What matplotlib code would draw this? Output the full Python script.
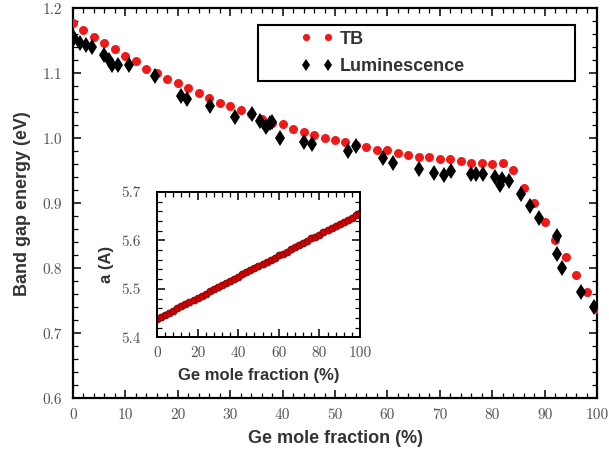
import matplotlib
matplotlib.use("Agg")
import matplotlib.pyplot as plt
from matplotlib.patches import Rectangle
from matplotlib.ticker import MultipleLocator

# データ
tb_x = list(range(0, 101, 2))
tb_y = [1.178, 1.167, 1.156, 1.146, 1.137, 1.127, 1.119, 1.107, 1.100, 1.092,
        1.085, 1.077, 1.069, 1.062, 1.055, 1.050, 1.044, 1.037, 1.029, 1.024,
        1.022, 1.015, 1.009, 1.005, 1.000, 0.997, 0.994, 0.990, 0.986, 0.982,
        0.982, 0.978, 0.974, 0.971, 0.971, 0.968, 0.968, 0.965, 0.962, 0.962,
        0.960, 0.962, 0.952, 0.924, 0.901, 0.872, 0.844, 0.817, 0.790, 0.764,
        0.738]

lum_x = [0.1, 1.3, 2.4, 3.7, 6.0, 6.8, 7.4, 8.5, 10.6, 15.6,
         20.6, 21.7, 26.1, 30.9, 34.1, 35.7, 36.8, 37.5, 37.9, 39.5,
         44.1, 45.6, 52.5, 54.1, 59.1, 61.1, 66.1, 68.9, 70.8, 72.1,
         75.9, 77.0, 78.2, 80.5, 81.4, 81.8, 83.3, 85.4, 87.3, 89.0,
         92.4, 92.4, 93.3, 96.9, 99.4]
lum_y = [1.154, 1.146, 1.144, 1.140, 1.128, 1.121, 1.113, 1.113, 1.113, 1.096,
         1.065, 1.060, 1.050, 1.033, 1.038, 1.027, 1.018, 1.023, 1.025, 1.000,
         0.994, 0.992, 0.981, 0.988, 0.970, 0.962, 0.953, 0.947, 0.944, 0.950,
         0.945, 0.945, 0.945, 0.940, 0.928, 0.937, 0.935, 0.914, 0.896, 0.878,
         0.849, 0.822, 0.800, 0.764, 0.741]

lat_x = list(range(0, 101, 2))
lat_y = [5.438, 5.442, 5.447, 5.451, 5.455, 5.460, 5.464, 5.469, 5.473, 5.477,
         5.482, 5.486, 5.490, 5.495, 5.499, 5.503, 5.508, 5.512, 5.517, 5.521,
         5.525, 5.530, 5.534, 5.539, 5.543, 5.547, 5.551, 5.556, 5.560, 5.564,
         5.569, 5.573, 5.577, 5.582, 5.586, 5.591, 5.595, 5.599, 5.604, 5.608,
         5.612, 5.617, 5.621, 5.625, 5.630, 5.634, 5.639, 5.643, 5.647, 5.652,
         5.656]

label_font = dict(family="Liberation Sans", weight="bold", color="#333333")
tick_color = "#555555"


def style_axes(ax, xmaj, xmin, ymaj, ymin, lw, xpad, ypad):
    ax.xaxis.set_major_locator(MultipleLocator(xmaj))
    ax.xaxis.set_minor_locator(MultipleLocator(xmin))
    ax.yaxis.set_major_locator(MultipleLocator(ymaj))
    ax.yaxis.set_minor_locator(MultipleLocator(ymin))
    ax.tick_params(which="both", direction="in", top=True, right=True,
                   labelcolor=tick_color, color="black")
    ax.tick_params(which="major", length=6, width=1.1)
    ax.tick_params(which="minor", length=3.5, width=0.9)
    ax.tick_params(axis="x", which="major", pad=xpad)
    ax.tick_params(axis="y", which="major", pad=ypad)
    for lab in ax.get_xticklabels() + ax.get_yticklabels():
        lab.set_family("cmr10")
        lab.set_fontsize(11)
    for s in ax.spines.values():
        s.set_linewidth(lw)


fig = plt.figure(figsize=(6.09, 4.57), dpi=100)
ax = fig.add_axes([0.1199, 0.1284, 0.8604, 0.8534])

ax.plot(tb_x, tb_y, "o", color="#ee1a1a", markersize=6.5, markeredgewidth=0,
        label="TB", zorder=3)
ax.plot(lum_x, lum_y, "d", color="black", markersize=7.8, markeredgewidth=0,
        label="Luminescence", zorder=4)
ax.set_xlim(0, 100)
ax.set_ylim(0.6, 1.2)
style_axes(ax, 10, 2, 0.1, 0.02, 1.6, 7, 8)
ax.set_xlabel("Ge mole fraction (%)", fontsize=13, labelpad=6, **label_font)
ax.set_ylabel("Band gap energy (eV)", fontsize=13, labelpad=8, **label_font)

# 凡例
ax.add_patch(Rectangle((0.353, 0.814), 0.605, 0.143, transform=ax.transAxes,
                       fill=False, edgecolor="black", linewidth=1.5, zorder=5))
leg = ax.legend(loc="upper left", bbox_to_anchor=(0.411, 0.975), frameon=False,
                numpoints=2, handlelength=1.77, handletextpad=0.37,
                labelspacing=0.58, borderpad=0.2, markerscale=0.8,
                prop=dict(family="Liberation Sans", weight="bold", size=13))
for t in leg.get_texts():
    t.set_color("#333333")

# 挿入図
ins = fig.add_axes([0.2578, 0.2619, 0.3333, 0.318])
ins.plot(lat_x, lat_y, "o", color="#d00000", markersize=5,
         markeredgecolor="#7a0000", markeredgewidth=0.6)
ins.set_xlim(0, 100)
ins.set_ylim(5.4, 5.7)
style_axes(ins, 20, 4, 0.1, 0.02, 1.4, 6.5, 12)
ins.set_xlabel("Ge mole fraction (%)", fontsize=12, labelpad=6, **label_font)
ins.set_ylabel("a (A)", fontsize=12, labelpad=5, **label_font)

fig.savefig("out.png", dpi=100)
